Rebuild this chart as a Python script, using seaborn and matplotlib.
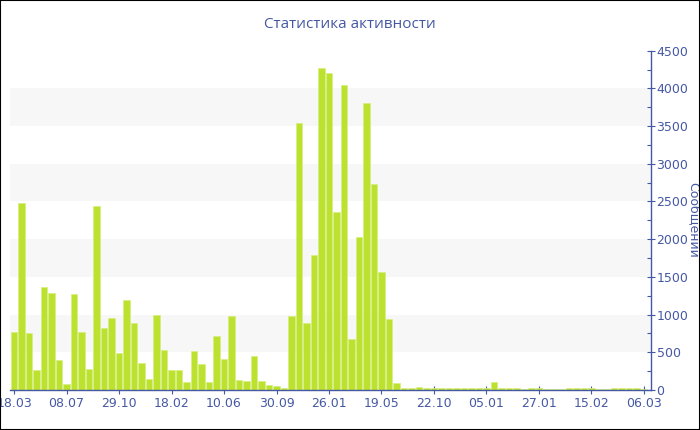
import matplotlib
matplotlib.use("Agg")
import matplotlib.pyplot as plt
from matplotlib.patches import Rectangle
from matplotlib.ticker import MultipleLocator
import seaborn as sns
import pandas as pd

# ---- data ----
messages = [765, 2485, 760, 265, 1370, 1280, 400, 85, 1275, 765,
            285, 2435, 825, 955, 495, 1190, 885, 360, 145, 1000,
            535, 260, 270, 110, 515, 340, 110, 720, 410, 985,
            135, 120, 455, 115, 65, 55, 30, 985, 3535, 895,
            1790, 4270, 4200, 2355, 4040, 675, 2030, 3805, 2730, 1560,
            945, 88, 30, 25, 45, 28, 30, 28, 22, 20,
            20, 22, 22, 22, 100, 20, 20, 20, 18, 20,
            20, 18, 18, 18, 20, 20, 32, 20, 18, 18,
            20, 30, 20, 30, 18]
tick_labels = ['18.03', '08.07', '29.10', '18.02', '10.06', '30.09', '26.01',
               '19.05', '22.10', '05.01', '27.01', '15.02', '06.03']
tick_step = 7
title = "Статистика активности"
y_label = "Сообщений"

df = pd.DataFrame({"period": list(range(len(messages))), "count": messages})

# ---- style ----
sns.set_theme(style="white")
plt.rcParams['font.family'] = ['DejaVu Sans']
blue = '#4558a3'
bar_color = '#bde12f'

fig = plt.figure(figsize=(7, 4.3), dpi=100)
ax = fig.add_axes([10/700, 40/430, 641/700, 339.3/430])

for lo in (500, 1500, 2500, 3500):
    ax.axhspan(lo, lo + 500, color='#f7f7f7', zorder=0, lw=0)

sns.barplot(data=df, x="period", y="count", color=bar_color, saturation=1,
            width=0.85, edgecolor='#d6ee80', linewidth=0.5, ax=ax, zorder=2)

ax.set_xlim(-0.55, 84.95)
ax.set_ylim(0, 4500)

for s in ('left', 'top'):
    ax.spines[s].set_visible(False)
for s in ('right', 'bottom'):
    ax.spines[s].set_color(blue)
    ax.spines[s].set_linewidth(1.0)

ax.yaxis.tick_right()
ax.yaxis.set_label_position('right')
ax.yaxis.set_major_locator(MultipleLocator(500))
ax.yaxis.set_minor_locator(MultipleLocator(250))
ax.tick_params(axis='y', which='major', direction='inout', length=6, width=0.8,
               color=blue, labelcolor=blue, labelsize=9, pad=1)
ax.tick_params(axis='y', which='minor', direction='in', length=3, width=0.8,
               color=blue)
ax.tick_params(axis='y', left=False, which='both')
ax.tick_params(axis='y', right=True, which='both')

ax.set_xticks(range(0, len(messages), tick_step))
ax.set_xticklabels(tick_labels)
ax.tick_params(axis='x', direction='inout', length=6, width=0.8, color=blue,
               labelcolor=blue, labelsize=9, pad=2, bottom=True)

ax.set_xlabel('')
ax.set_ylabel(y_label, rotation=270, color=blue, fontsize=9,
              va='center', ha='center')
ax.yaxis.set_label_coords((693 - 10) / 641, 0.5)
ax.grid(False)

fig.text(0.5, 1 - 25/430, title, ha='center', va='center', color=blue,
         fontsize=11, family=['Open Sans', 'DejaVu Sans'])

fig.patches.append(Rectangle((0, 0), 1, 1, transform=fig.transFigure,
                             fill=False, edgecolor='black', linewidth=1.5))

fig.savefig('out.png', dpi=100, facecolor='white')
